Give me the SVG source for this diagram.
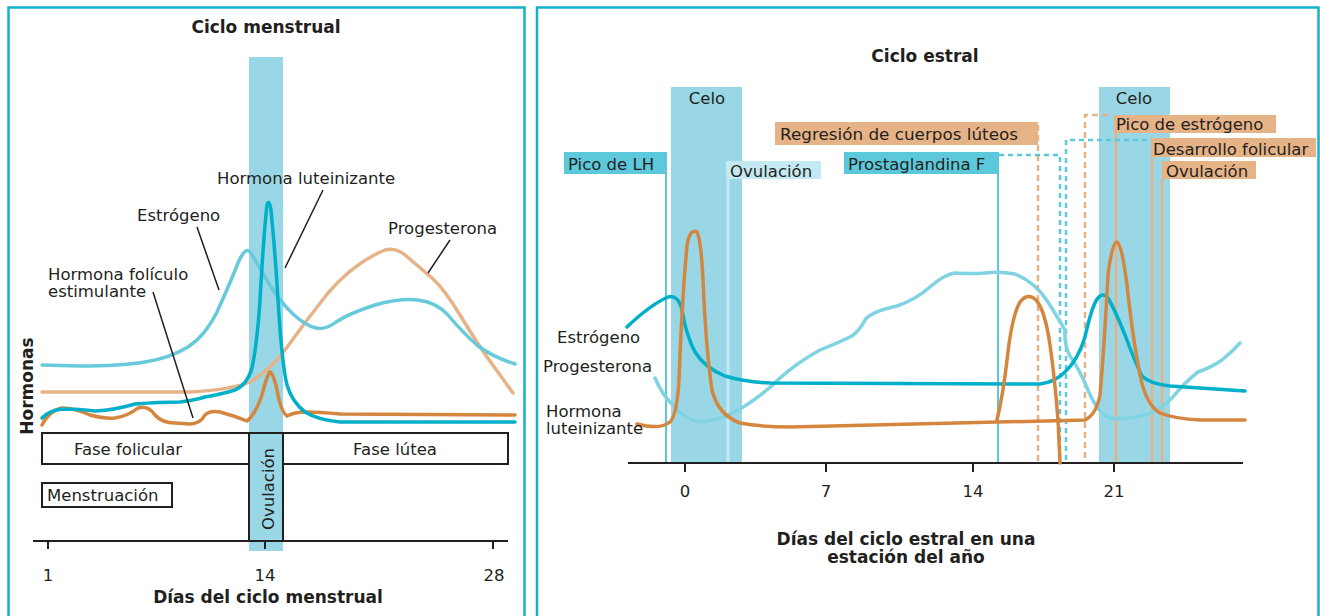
<svg xmlns="http://www.w3.org/2000/svg" width="1320" height="616" viewBox="0 0 1320 616">
<style>
.t{font-family:"DejaVu Sans",Verdana,sans-serif;font-size:16.5px;fill:#231f20}
.b{font-family:"DejaVu Sans",Verdana,sans-serif;font-size:17px;font-weight:bold;fill:#231f20}
.c{fill:none;stroke-width:3.5;stroke-linecap:round;stroke-linejoin:round}
.lb{stroke:#67cadb}.dt{stroke:#00afc9}.og{stroke:#d4863e}.tn{stroke:#e6b387}.lb2{stroke:#80d3e2}
.band{fill:#9ad7e6}
.box{fill:#fff;stroke:#231f20;stroke-width:2}
.ax{stroke:#231f20;stroke-width:2;fill:none}
.ld{stroke:#231f20;stroke-width:1.5;fill:none}
.panel{fill:none;stroke:#13b1cb;stroke-width:2.5}
</style>
<rect class="panel" x="8.5" y="7.5" width="516" height="640"/>
<rect class="panel" x="537" y="7.5" width="781.5" height="640"/>

<g id="menstrual">
<text class="b" x="266" y="33" text-anchor="middle">Ciclo menstrual</text>
<rect class="band" x="249" y="57" width="34" height="494"/>
<g id="phases">
<rect class="box" x="42" y="433" width="207" height="31"/>
<rect class="box" x="283" y="433" width="225" height="31"/>
<rect x="249" y="433" width="34" height="108" fill="none" stroke="#231f20" stroke-width="2"/>
<rect class="box" x="42" y="483" width="130" height="24"/>
<text class="t" x="128" y="455" text-anchor="middle">Fase folicular</text>
<text class="t" x="395" y="455" text-anchor="middle">Fase lútea</text>
<text class="t" x="47" y="501">Menstruación</text>
<text class="t" transform="translate(274,489) rotate(-90)" text-anchor="middle">Ovulación</text>
</g>
<g id="m-axis">
<path class="ax" d="M33,541H508M48,541V549M265,541V549M493,541V549"/>
<text class="t" x="48" y="581" text-anchor="middle">1</text>
<text class="t" x="265" y="581" text-anchor="middle">14</text>
<text class="t" x="494" y="581" text-anchor="middle">28</text>
<text class="b" x="268" y="603" text-anchor="middle">Días del ciclo menstrual</text>
<text class="b" transform="translate(33,386) rotate(-90)" text-anchor="middle">Hormonas</text>
</g>
<g id="m-curves">
<path class="c tn" d="M42,392 L190,392 Q230,390 250,382 Q268,372 285,350 Q305,322 328,293 Q355,262 385,250 Q395,247 405,255 Q418,266 432,278 Q445,290 460,315 Q480,348 495,368 Q505,382 513,393"/>
<path class="c lb" d="M42,365 L80,366 Q120,366 145,362 Q170,358 188,347 Q205,336 217,312 Q228,288 236,268 Q245,244 251,253 Q256,262 268,282 Q280,302 293,314 Q306,326 316,328 Q326,330 336,322 Q350,313 375,305 Q400,298 418,300 Q436,302 448,315 Q462,332 478,346 Q495,358 515,364"/>
<path class="c og" d="M42,425 Q50,410 62,408 Q75,408 90,415 Q105,419 115,418 Q128,416 138,408 Q148,405 155,415 Q162,423 175,423 L190,424 Q200,424 205,415 Q210,410 220,412 Q235,416 247,421 Q255,415 262,395 Q267,375 270,372 Q273,372 277,390 Q281,412 287,416 Q295,412 305,412 Q320,412 340,414 L515,415"/>
<path class="c dt" d="M42,418 Q50,410 62,409 Q80,409 95,411 Q115,410 135,404 Q160,402 180,402 Q195,400 205,397 Q222,394 235,390 Q247,385 252,368 Q257,345 260,300 Q264,230 267,205 Q269,198 271,210 Q275,250 278,300 Q282,365 287,385 Q292,402 305,412 Q318,420 340,422 L515,422"/>
</g>
<g id="m-labels">
<text class="t" x="217" y="184">Hormona luteinizante</text>
<text class="t" x="137" y="221">Estrógeno</text>
<text class="t" x="388" y="234">Progesterona</text>
<text class="t" x="48" y="280">Hormona folículo</text>
<text class="t" x="48" y="297">estimulante</text>
<path class="ld" d="M323,190L285,268M197,227L219,290M450,240L428,273M153,292L193,418"/>
</g>
</g>

<g id="estral">
<text class="b" x="925" y="62" text-anchor="middle">Ciclo estral</text>
<rect class="band" x="671" y="87" width="71" height="376"/>
<rect class="band" x="1099" y="87" width="71" height="376"/>
<text class="t" x="707" y="104" text-anchor="middle">Celo</text>
<text class="t" x="1134" y="104" text-anchor="middle">Celo</text>
<g id="e-lines">
<path d="M666,174V463M998,174V463" stroke="#5bc9db" stroke-width="2" fill="none"/>
<path d="M728,179V463" stroke="#c5e9f2" stroke-width="3" fill="none"/>
<path d="M1116,133V463M1152,157V463M1162,179V463" stroke="#e6b387" stroke-width="2.5" fill="none"/>
<path d="M1038,125V463M1108,115H1085V463" stroke="#e6b387" stroke-width="2.5" stroke-dasharray="6 4" fill="none"/>
<path d="M999,155H1060V463M1147,140H1066V463" stroke="#5bc9db" stroke-width="2.5" stroke-dasharray="5 4" fill="none"/>
</g>
<g id="e-tags">
<rect x="564" y="152" width="103" height="22" fill="#5bc9db"/>
<text class="t" x="568" y="170">Pico de LH</text>
<rect x="726" y="161" width="95" height="18" fill="#c5e9f2"/>
<text class="t" x="730" y="177">Ovulación</text>
<rect x="775" y="122" width="263" height="23" fill="#e6b387"/>
<text class="t" x="780" y="140" textLength="238" lengthAdjust="spacingAndGlyphs">Regresión de cuerpos lúteos</text>
<rect x="844" y="152" width="155" height="22" fill="#5bc9db"/>
<text class="t" x="848" y="170">Prostaglandina F</text>
<rect x="1114" y="115" width="162" height="18" fill="#e6b387"/>
<text class="t" x="1116" y="130">Pico de estrógeno</text>
<rect x="1151" y="138" width="165" height="19" fill="#e6b387"/>
<text class="t" x="1153" y="155">Desarrollo folicular</text>
<rect x="1162" y="161" width="94" height="18" fill="#e6b387"/>
<text class="t" x="1166" y="177">Ovulación</text>
</g>
<g id="e-axis">
<path class="ax" d="M628,463H1243M685,463V472M826,463V472M973,463V472M1114,463V472"/>
<text class="t" x="685" y="497" text-anchor="middle">0</text>
<text class="t" x="826" y="497" text-anchor="middle">7</text>
<text class="t" x="973" y="497" text-anchor="middle">14</text>
<text class="t" x="1114" y="497" text-anchor="middle">21</text>
<text class="b" x="906" y="545" text-anchor="middle">Días del ciclo estral en una</text>
<text class="b" x="906" y="563" text-anchor="middle">estación del año</text>
</g>
<g id="e-curves">
<path class="c lb2" d="M655,378 Q662,395 673,405 Q685,420 700,422 Q720,421 745,406 Q765,393 780,378 Q798,362 820,350 Q840,342 852,336 Q860,330 865,320 Q870,312 897,306 Q915,300 930,287 Q945,274 955,273 Q970,274 985,273 Q1000,271 1015,274 Q1035,282 1048,302 Q1058,318 1065,330 Q1064,345 1070,356 Q1080,370 1088,390 Q1098,414 1110,418 Q1125,420 1145,415 Q1160,410 1172,398 Q1185,382 1198,372 Q1212,367 1222,360 Q1232,352 1240,343"/>
<path class="c dt" d="M627,327 Q650,305 668,297 Q678,294 682,310 Q686,335 695,352 Q705,368 725,376 Q745,382 770,383 L1040,384 Q1055,382 1065,372 Q1078,360 1085,337 Q1092,305 1098,298 Q1103,292 1108,298 Q1115,310 1125,335 Q1135,362 1142,376 Q1150,384 1170,386 L1245,391"/>
<path class="c og" d="M637,424 Q660,430 670,422 Q677,415 679,380 Q682,300 687,245 Q690,228 697,232 Q701,240 703,280 Q706,350 712,390 Q718,415 740,423 Q760,427 790,427 L1085,420 Q1096,415 1100,395 Q1104,350 1108,275 Q1112,242 1117,242 Q1122,245 1127,285 Q1133,340 1140,375 Q1146,405 1160,413 Q1175,419 1200,420 L1245,420"/>
<path class="c og" d="M997,420 Q1003,395 1007,360 Q1012,315 1020,302 Q1028,292 1036,300 Q1045,310 1050,345 Q1055,380 1058,420 L1060,463"/>
</g>
<g id="e-labels">
<text class="t" x="557" y="343">Estrógeno</text>
<text class="t" x="543" y="372">Progesterona</text>
<text class="t" x="546" y="417">Hormona</text>
<text class="t" x="546" y="434">luteinizante</text>
</g>
</g>
</svg>
